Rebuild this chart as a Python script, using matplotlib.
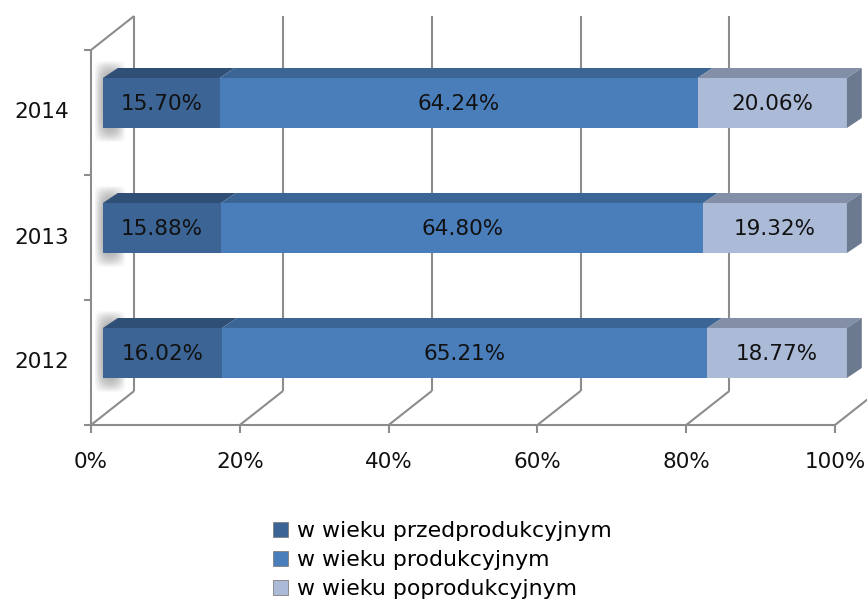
import numpy as np
import matplotlib
matplotlib.use('Agg')
from matplotlib import pyplot as plt
from matplotlib.patches import Polygon, Rectangle

# data
years = ['2012', '2013', '2014']
przed = [16.02, 15.88, 15.70]
prod = [65.21, 64.80, 64.24]
poprod = [18.77, 19.32, 20.06]
series_names = ['w wieku przedprodukcyjnym', 'w wieku produkcyjnym', 'w wieku poprodukcyjnym']
xticks = [0, 20, 40, 60, 80, 100]
xtick_labels = ['0%', '20%', '40%', '60%', '80%', '100%']

front_cols = ['#3c6595', '#4a7ebb', '#aabad7']
top_cols = ['#2f4f77', '#3b6595', '#828fa6']
end_col = '#6c7a90'
line_col = '#8c8c8c'

W, H = 867, 603
fig = plt.figure(figsize=(W / 100, H / 100), dpi=100)
ax = fig.add_axes([91 / W, (H - 425) / H, 744 / W, 375 / H])
ax.set_xlim(0, 100)
ax.set_ylim(0, 3)
ax.axis('off')

# depth of the whole box and of the bars (in data units)
dx, dy = 5.8, 0.272
off_x, off_y = 1.6, 0.076
bdx, bdy = 2.0, 0.08
bh = 0.4

lw = 1.5
kw = dict(color=line_col, lw=lw, clip_on=False, solid_capstyle='butt', zorder=1)

# back wall gridlines + floor diagonals + ticks
for t in xticks:
    ax.plot([t + dx, t + dx], [dy, 3 + dy], **kw)
    ax.plot([t, t + dx], [0, dy], **kw)
    ax.plot([t, t], [0, -0.06], **kw)
ax.plot([0, 100], [0, 0], **kw)
# left wall
ax.plot([0, 0], [0, 3], **kw)
ax.plot([0, dx], [3, 3 + dy], **kw)
for c in range(4):
    ax.plot([0, -0.9], [c, c], **kw)

# soft shadow image
gx = np.linspace(-1, 1, 40)
gy = np.linspace(-1, 1, 60)
GX, GY = np.meshgrid(gx, gy)
blob = np.clip(1 - GX ** 2, 0, 1) * np.clip(1 - np.abs(GY) ** 4, 0, 1)
shadow = np.zeros((60, 40, 4))
shadow[..., :3] = 0.3
shadow[..., 3] = 0.5 * blob

# bars
for i, yr in enumerate(years):
    vals = [przed[i], prod[i], poprod[i]]
    yb = i + 0.5 + off_y - bh / 2
    yt = yb + bh
    ax.imshow(shadow, extent=(off_x - 1.2, off_x + 3.0, yb - 0.12, yt + 0.14),
              aspect='auto', zorder=2, clip_on=False, interpolation='bilinear')
    left = off_x
    for j, v in enumerate(vals):
        ax.barh(i + 0.5 + off_y, v, left=left, height=bh, color=front_cols[j],
                zorder=4, clip_on=False)
        ax.add_patch(Polygon([(left, yt), (left + v, yt), (left + v + bdx, yt + bdy),
                              (left + bdx, yt + bdy)], closed=True,
                             facecolor=top_cols[j], lw=0, zorder=4, clip_on=False))
        ax.text(left + v / 2, i + 0.5 + off_y - 0.01, f'{v:.2f}%', ha='center', va='center',
                fontsize=15.5, color='#111111', zorder=6)
        left += v
    ax.add_patch(Polygon([(left, yb), (left, yt), (left + bdx, yt + bdy),
                          (left + bdx, yb + bdy)], closed=True,
                         facecolor=end_col, lw=0, zorder=4, clip_on=False))
    ax.text(-3.0, i + 0.5, yr, ha='right', va='center', fontsize=15.5, color='#111111')

ax.set_xlim(0, 100)
ax.set_ylim(0, 3)

for t, lab in zip(xticks, xtick_labels):
    ax.text(t, -0.22, lab, ha='center', va='top', fontsize=15.5, color='#111111')

handles = [Rectangle((0, 0), 1, 1, facecolor=c, edgecolor='#7f7f7f', lw=0.6) for c in front_cols]
fig.legend(handles, series_names, loc='upper left', bbox_to_anchor=(262 / W, 1 - 510 / H),
           frameon=False, fontsize=15.8, handlelength=0.7, handleheight=0.7,
           handletextpad=0.4, labelspacing=0.42, borderpad=0)

fig.savefig('out.png', dpi=100)
